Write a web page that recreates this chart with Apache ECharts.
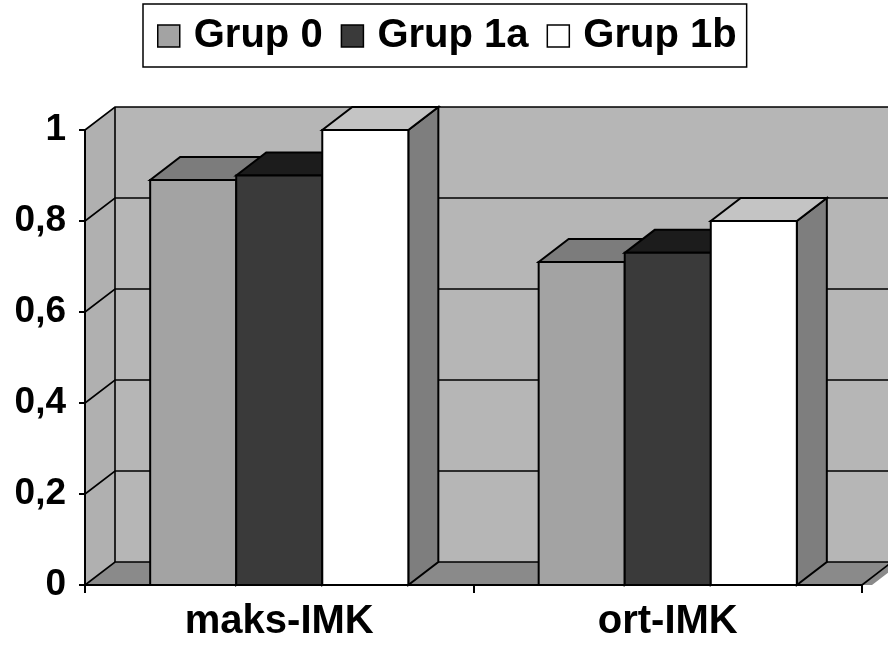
<!DOCTYPE html>
<html>
<head>
<meta charset="utf-8">
<script src="https://cdn.jsdelivr.net/npm/echarts@6/dist/echarts.min.js"></script>
<style>
  html, body { margin: 0; padding: 0; background: #fff; }
  #chart { width: 888px; height: 652px; }
</style>
</head>
<body>
<div id="chart"></div>
<script>
// Chart data
const categories = ['maks-IMK', 'ort-IMK'];
const seriesNames = ['Grup 0', 'Grup 1a', 'Grup 1b'];
const grup0 = [0.89, 0.71];
const grup1a = [0.90, 0.73];
const grup1b = [1.00, 0.80];
const yTicks = [0, 0.2, 0.4, 0.6, 0.8, 1];

// 3D look: depth offset of the box and the bars
const DX = 30;
const DY = -23;
const FONT = 'Liberation Sans, Arial, sans-serif';

// face colours per series: front, top, side
const faces = [
  { front: '#a3a3a3', top: '#7c7c7c', side: '#6e6e6e' },
  { front: '#3a3a3a', top: '#1c1c1c', side: '#2a2a2a' },
  { front: '#ffffff', top: '#c4c4c4', side: '#7e7e7e' }
];
const WALL = '#b6b6b6';
const SIDE_WALL = '#b0b0b0';
const FLOOR = '#8a8a8a';
const EDGE = { stroke: '#000', lineWidth: 2 };

function renderWalls(params, api) {
  const cs = params.coordSys;
  const left = cs.x, right = cs.x + cs.width;
  const top = cs.y, bottom = cs.y + cs.height;
  const children = [
    { type: 'rect', shape: { x: left + DX, y: top + DY, width: cs.width + 10, height: cs.height },
      style: { fill: WALL } },
    { type: 'polygon', shape: { points: [[left, top], [left + DX, top + DY], [left + DX, bottom + DY], [left, bottom]] },
      style: { fill: SIDE_WALL } },
    { type: 'polygon', shape: { points: [[left, bottom], [left + DX, bottom + DY], [right + DX + 10, bottom + DY], [right + 10, bottom]] },
      style: { fill: FLOOR } }
  ];
  yTicks.forEach(function (v) {
    const y = api.coord([0, v])[1];
    children.push({ type: 'polyline',
      shape: { points: [[left, y], [left + DX, y + DY], [right + DX + 10, y + DY]] },
      style: { fill: null, stroke: '#000', lineWidth: 1.6 } });
  });
  children.push({ type: 'line', shape: { x1: left + DX, y1: top + DY, x2: left + DX, y2: bottom + DY },
    style: { stroke: '#000', lineWidth: 1.6 } });
  children.push({ type: 'line', shape: { x1: right, y1: bottom, x2: right + DX, y2: bottom + DY },
    style: { stroke: '#000', lineWidth: 1.6 } });
  return { type: 'group', children: children };
}

function makeBarRenderer(k) {
  return function (params, api) {
    const cat = api.value(0);
    const val = api.value(1);
    const center = api.coord([cat, 0]);
    const topPt = api.coord([cat, val]);
    const band = api.size([1, 0])[0];
    const bw = band * 0.2215;
    const x0 = center[0] - 1.5 * bw + k * bw;
    const x1 = x0 + bw;
    const yb = center[1];
    const yt = topPt[1];
    const f = faces[k];
    return {
      type: 'group',
      children: [
        { type: 'polygon', shape: { points: [[x1, yt], [x1 + DX, yt + DY], [x1 + DX, yb + DY], [x1, yb]] },
          style: Object.assign({ fill: f.side }, EDGE) },
        { type: 'polygon', shape: { points: [[x0, yt], [x0 + DX, yt + DY], [x1 + DX, yt + DY], [x1, yt]] },
          style: Object.assign({ fill: f.top }, EDGE) },
        { type: 'rect', shape: { x: x0, y: yt, width: bw, height: yb - yt },
          style: Object.assign({ fill: f.front }, EDGE) }
      ]
    };
  };
}

const values = [grup0, grup1a, grup1b];
const chart = echarts.init(document.getElementById('chart'), null, { renderer: 'canvas' });

const series = [{
  type: 'custom',
  name: '__walls',
  silent: true,
  z: 1,
  data: [[0, 0]],
  renderItem: renderWalls
}];
seriesNames.forEach(function (name, k) {
  series.push({
    type: 'custom',
    name: name,
    silent: true,
    z: 2,
    itemStyle: { color: faces[k].front },
    encode: { x: 0, y: 1 },
    data: values[k].map(function (v, i) { return [i, v]; }),
    renderItem: makeBarRenderer(k)
  });
});

chart.setOption({
  animation: false,
  backgroundColor: '#ffffff',
  grid: { left: 85, top: 130, width: 777, height: 455 },
  legend: {
    left: 143,
    top: 4,
    padding: [12, 10, 11, 14],
    borderColor: '#000',
    borderWidth: 1.5,
    itemGap: 18,
    itemWidth: 22,
    itemHeight: 22,
    icon: 'rect',
    textStyle: { fontFamily: FONT, fontWeight: 'bold', fontSize: 40, color: '#000', padding: [0, 0, 0, 9] },
    data: seriesNames.map(function (name, k) {
      return { name: name, itemStyle: { color: faces[k].front, borderColor: '#000', borderWidth: 1.5 } };
    })
  },
  xAxis: {
    type: 'category',
    data: categories,
    z: 10,
    axisLine: { lineStyle: { color: '#000', width: 2 } },
    axisTick: { show: true, length: 8, lineStyle: { color: '#000', width: 2 } },
    axisLabel: { fontFamily: FONT, fontWeight: 'bold', fontSize: 40, color: '#000', margin: 17 },
    splitLine: { show: false }
  },
  yAxis: {
    type: 'value',
    min: 0,
    max: 1,
    interval: 0.2,
    z: 10,
    axisLine: { show: true, lineStyle: { color: '#000', width: 2 } },
    axisTick: { show: true, length: 6, lineStyle: { color: '#000', width: 2 } },
    axisLabel: {
      fontFamily: FONT, fontWeight: 'bold', fontSize: 37, color: '#000', margin: 19,
      formatter: function (v) { return String(Math.round(v * 10) / 10).replace('.', ','); }
    },
    splitLine: { show: false }
  },
  series: series
});
</script>
</body>
</html>
